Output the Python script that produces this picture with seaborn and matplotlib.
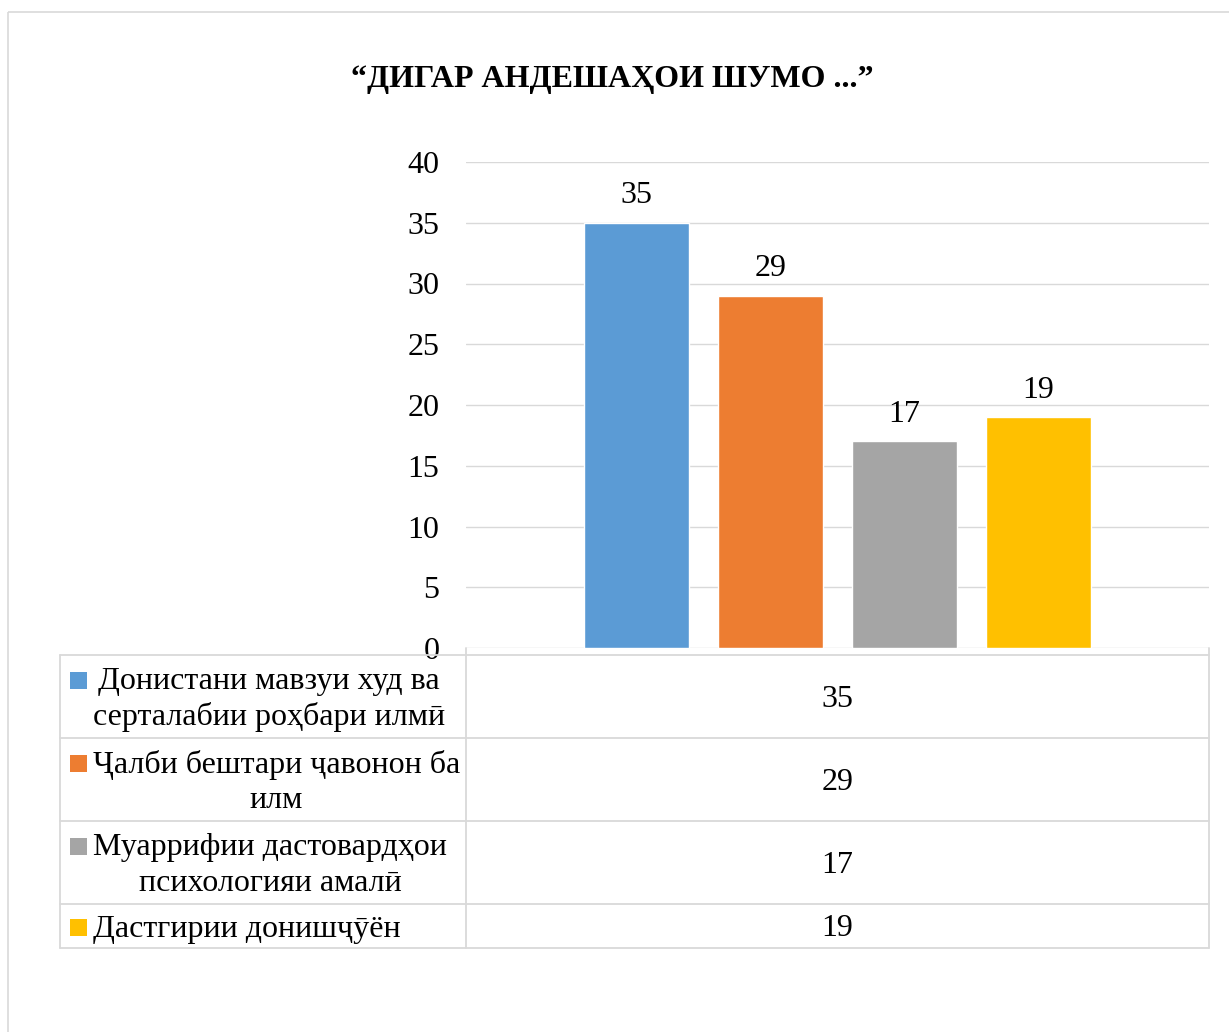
import matplotlib
matplotlib.use("Agg")
import matplotlib.pyplot as plt
from matplotlib.patches import Rectangle
import seaborn as sns
import pandas as pd

# ---- data ----
title = "“ДИГАР АНДЕШАҲОИ ШУМО ...”"
series_labels = [
    "Донистани мавзуи худ ва\nсерталабии роҳбари илмӣ",
    "Ҷалби бештари ҷавонон ба\nилм",
    "Муаррифии дастовардҳои\nпсихологияи амалӣ",
    "Дастгирии донишҷӯён",
]
values = [35, 29, 17, 19]
colors = ["#5B9BD5", "#ED7D31", "#A5A5A5", "#FFC000"]
y_ticks = [0, 5, 10, 15, 20, 25, 30, 35, 40]

sns.set_theme(style="white")
plt.rcParams["font.family"] = ["Liberation Serif", "DejaVu Serif"]
plt.rcParams["text.color"] = "black"
plt.rcParams["ytick.color"] = "black"
plt.rcParams["xtick.color"] = "black"

W, H = 1229, 1032
fig = plt.figure(figsize=(W / 100, H / 100), dpi=100)
grid_c = "#D9D9D9"

def fx(px):
    return px / W

def fy(py):
    return 1 - py / H

# plot area
x0, x1, y0, y1 = 466, 1209, 648, 162
ax = fig.add_axes([fx(x0), fy(y0), fx(x1) - fx(x0), fy(y1) - fy(y0)])

df = pd.DataFrame({"cat": [""] * len(values), "series": series_labels, "value": values})
sns.barplot(data=df, x="cat", y="value", hue="series", hue_order=series_labels,
            palette=colors, width=0.7214, gap=0.209, saturation=1,
            legend=False, ax=ax)
ax.set_xlim(-0.5, 0.5)
ax.set_ylim(0, 40)
ax.set_yticks(y_ticks)
ax.set_yticklabels([str(t) for t in y_ticks], fontsize=23, color="black")
ax.tick_params(axis="y", length=0, pad=19)
ax.set_xticks([])
ax.set_xlabel("")
ax.set_ylabel("")
for s in ax.spines.values():
    s.set_visible(False)
ax.yaxis.grid(True, color=grid_c, linewidth=1.0)
ax.set_axisbelow(True)
for cont in ax.containers:
    ax.bar_label(cont, fontsize=23, padding=9, color="black")

# overlay for title, table and frame (pixel coordinates)
ov = fig.add_axes([0, 0, 1, 1], zorder=-1)
ov.set_xlim(0, W)
ov.set_ylim(H, 0)
ov.axis("off")
ov.add_patch(Rectangle((8, 12), 1300, 1100, fill=False, edgecolor=grid_c, linewidth=1.2))
ov.text(612, 80, title, ha="center", va="center", fontsize=23, fontweight="bold",
        color="black")

tab = fig.add_axes([0, 0, 1, 1], zorder=2)
tab.set_xlim(0, W)
tab.set_ylim(H, 0)
tab.axis("off")
tab.patch.set_alpha(0)

lx0, lx1, rx1 = 60, 466, 1209
top = 655
line_h = 36
rows_y = [top]
for lab in series_labels:
    n = lab.count("\n") + 1
    rows_y.append(rows_y[-1] + line_h * n + 11 - (3 if n == 1 else 0))
lw = 1.3
# horizontal lines
for yy in rows_y:
    tab.plot([lx0, rx1], [yy, yy], color=grid_c, lw=lw)
# vertical lines
tab.plot([lx0, lx0], [rows_y[0], rows_y[-1]], color=grid_c, lw=lw)
tab.plot([lx1, lx1], [y0, rows_y[-1]], color=grid_c, lw=lw)
tab.plot([rx1, rx1], [y0, rows_y[-1]], color=grid_c, lw=lw)

for i, (lab, val, col) in enumerate(zip(series_labels, values, colors)):
    ya, yb = rows_y[i], rows_y[i + 1]
    yc = (ya + yb) / 2
    n = lab.count("\n") + 1
    first_c = yc - (n - 1) * line_h / 2
    tab.add_patch(Rectangle((70, first_c - 7), 17, 17, color=col, lw=0))
    tab.text(93, yc + 3, lab, ha="left", va="center", multialignment="center",
             fontsize=23, linespacing=1.3, color="black")
    tab.text((lx1 + rx1) / 2, yc + 3, str(val), ha="center", va="center", fontsize=23,
             color="black")

fig.savefig("out.png", dpi=100)
